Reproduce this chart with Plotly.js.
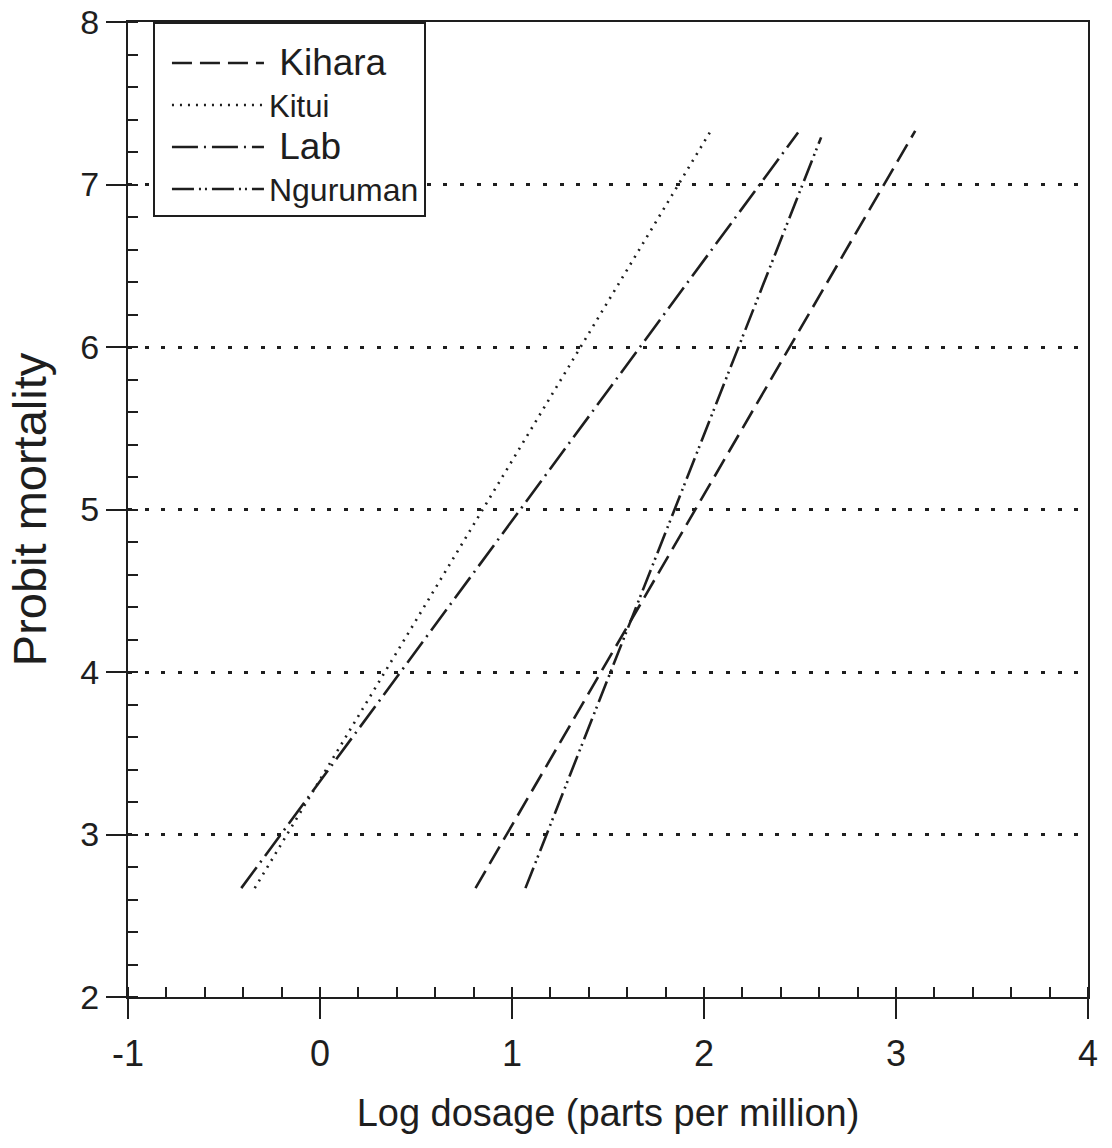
<!DOCTYPE html>
<html>
<head>
<meta charset="utf-8">
<script src="https://cdn.plot.ly/plotly-3.0.1.min.js"></script>
<style>
  html, body { margin: 0; padding: 0; background: #ffffff; }
  #chart { width: 1112px; height: 1148px; }
</style>
</head>
<body>
<div id="chart"></div>
<script>
// ---- Data (log dose vs probit mortality regression lines) ----
const seriesNames = ["Kihara", "Kitui", "Lab", "Nguruman"];
const kiharaX = [0.81, 3.10];
const kiharaY = [2.67, 7.33];
const kituiX = [-0.34, 2.03];
const kituiY = [2.67, 7.32];
const labX = [-0.41, 2.49];
const labY = [2.67, 7.32];
const ngurumanX = [1.07, 2.61];
const ngurumanY = [2.67, 7.29];
const xTickVals = [-1, 0, 1, 2, 3, 4];
const xTickText = ["-1", "0", "1", "2", "3", "4"];
const yTickVals = [2, 3, 4, 5, 6, 7, 8];
const yTickText = ["2", "3", "4", "5", "6", "7", "8"];

const ink = "#1e1e1e";
const font = "Liberation Sans, Arial, sans-serif";

function lineTrace(x, y, label, size, lead, dash) {
  return {
    type: "scatter", mode: "lines", x: x, y: y,
    name: '<span style="font-size:' + size + 'px">' + lead + label + '</span>',
    line: { color: ink, width: 2.6, dash: dash },
    hoverinfo: "skip"
  };
}

const traces = [
  lineTrace(kiharaX, kiharaY, seriesNames[0], 37, "&nbsp;", "20px,8px"),
  lineTrace(kituiX, kituiY, seriesNames[1], 31, "", "2px,6px"),
  lineTrace(labX, labY, seriesNames[2], 37, "&nbsp;", "26px,6px,2px,6px"),
  lineTrace(ngurumanX, ngurumanY, seriesNames[3], 32, "", "22px,5px,2px,4px,2px,5px")
];

const layout = {
  width: 1112, height: 1148,
  margin: { l: 128, r: 24, t: 22, b: 151, pad: 0 },
  paper_bgcolor: "#ffffff", plot_bgcolor: "#ffffff",
  font: { family: font, color: ink, size: 30 },
  showlegend: true,
  legend: {
    x: 0.026, y: 1, xanchor: "left", yanchor: "top",
    bgcolor: "#ffffff", bordercolor: ink, borderwidth: 2,
    font: { family: font, size: 30, color: ink },
    title: { text: " ", font: { family: font, size: 10 } },
    itemwidth: 92, indentation: 12, tracegroupgap: 0
  },
  xaxis: {
    range: [-1, 4],
    tickmode: "array", tickvals: xTickVals, ticktext: xTickText,
    ticks: "outside", ticklen: 20, tickwidth: 2, tickcolor: ink,
    tickfont: { family: font, size: 36, color: ink },
    ticklabelstandoff: 4,
    minor: { dtick: 0.2, ticks: "inside", ticklen: 10, tickwidth: 2, tickcolor: ink, showgrid: false },
    showline: true, linecolor: ink, linewidth: 2, mirror: true,
    showgrid: false, zeroline: false,
    title: { text: "Log dosage (parts per million)", font: { family: font, size: 38, color: ink }, standoff: 26 }
  },
  yaxis: {
    range: [2, 8],
    tickmode: "array", tickvals: yTickVals,
    ticktext: yTickText.map(function (t) { return "\u00a0\u00a0" + t; }),
    ticks: "outside", ticklen: 20, tickwidth: 2, tickcolor: ink,
    tickfont: { family: font, size: 34, color: ink },
    minor: { dtick: 0.2, ticks: "inside", ticklen: 10, tickwidth: 2, tickcolor: ink, showgrid: false },
    showline: true, linecolor: ink, linewidth: 2, mirror: true,
    showgrid: true, gridcolor: ink, gridwidth: 3, griddash: "4px,12.6px",
    zeroline: false,
    title: { text: "Probit mortality", font: { family: font, size: 47, color: ink }, standoff: 0 }
  }
};

Plotly.newPlot("chart", traces, layout, { staticPlot: true, displayModeBar: false });
</script>
</body>
</html>
